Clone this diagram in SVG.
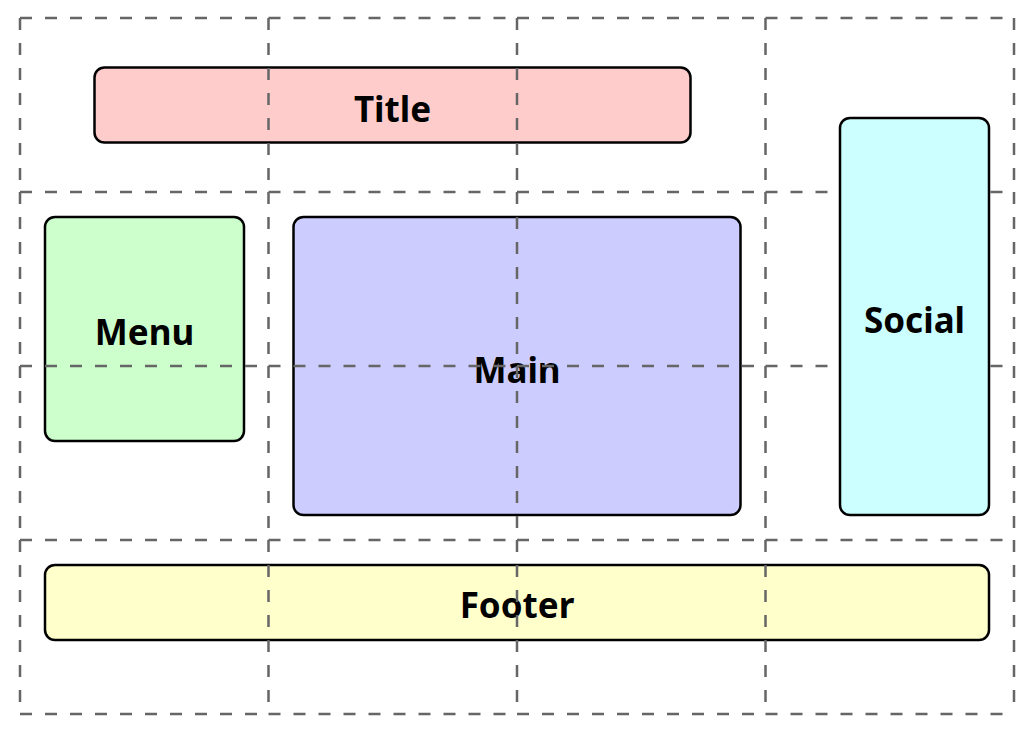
<svg xmlns="http://www.w3.org/2000/svg" width="1031" height="735" viewBox="0 0 1031 735">
<style>
.box{stroke:#000;stroke-width:2.5}
.lbl{font-family:"Noto Sans","DejaVu Sans",sans-serif;font-weight:bold;font-size:35px;fill:#000;text-anchor:middle}
.grid{fill:none;stroke:#666;stroke-width:2.5;stroke-dasharray:12 13}
</style>
<rect width="1031" height="735" fill="#fff"/>
<g id="title"><rect class="box" x="94.5" y="67.5" width="596" height="75" rx="10" fill="#ffcccc"/><text class="lbl" x="392.5" y="122">Title</text></g>
<g id="menu"><rect class="box" x="45" y="217" width="199" height="224" rx="10" fill="#ccffcc"/><text class="lbl" x="144.5" y="345">Menu</text></g>
<g id="main"><rect class="box" x="293.5" y="217" width="447" height="298" rx="10" fill="#ccccff"/><text class="lbl" x="517" y="383">Main</text></g>
<g id="footer"><rect class="box" x="45" y="565" width="944" height="75" rx="10" fill="#ffffcc"/><text class="lbl" x="517" y="618">Footer</text></g>
<g id="grid">
<path class="grid" d="M20 18h248.5M268.5 18h248.5M517 18h248.5M765.5 18h248.5
M20 192h248.5M268.5 192h248.5M517 192h248.5M765.5 192h248.5
M20 366h248.5M268.5 366h248.5M517 366h248.5M765.5 366h248.5
M20 540h248.5M268.5 540h248.5M517 540h248.5M765.5 540h248.5
M20 714h248.5M268.5 714h248.5M517 714h248.5M765.5 714h248.5
M20 18v174M20 192v174M20 366v174M20 540v174
M268.5 18v174M268.5 192v174M268.5 366v174M268.5 540v174
M517 18v174M517 192v174M517 366v174M517 540v174
M765.5 18v174M765.5 192v174M765.5 366v174M765.5 540v174
M1014 18v174M1014 192v174M1014 366v174M1014 540v174"/>
</g>
<g id="social"><rect class="box" x="840" y="118" width="149" height="397" rx="10" fill="#ccffff"/><text class="lbl" x="914.5" y="333">Social</text></g>
</svg>
